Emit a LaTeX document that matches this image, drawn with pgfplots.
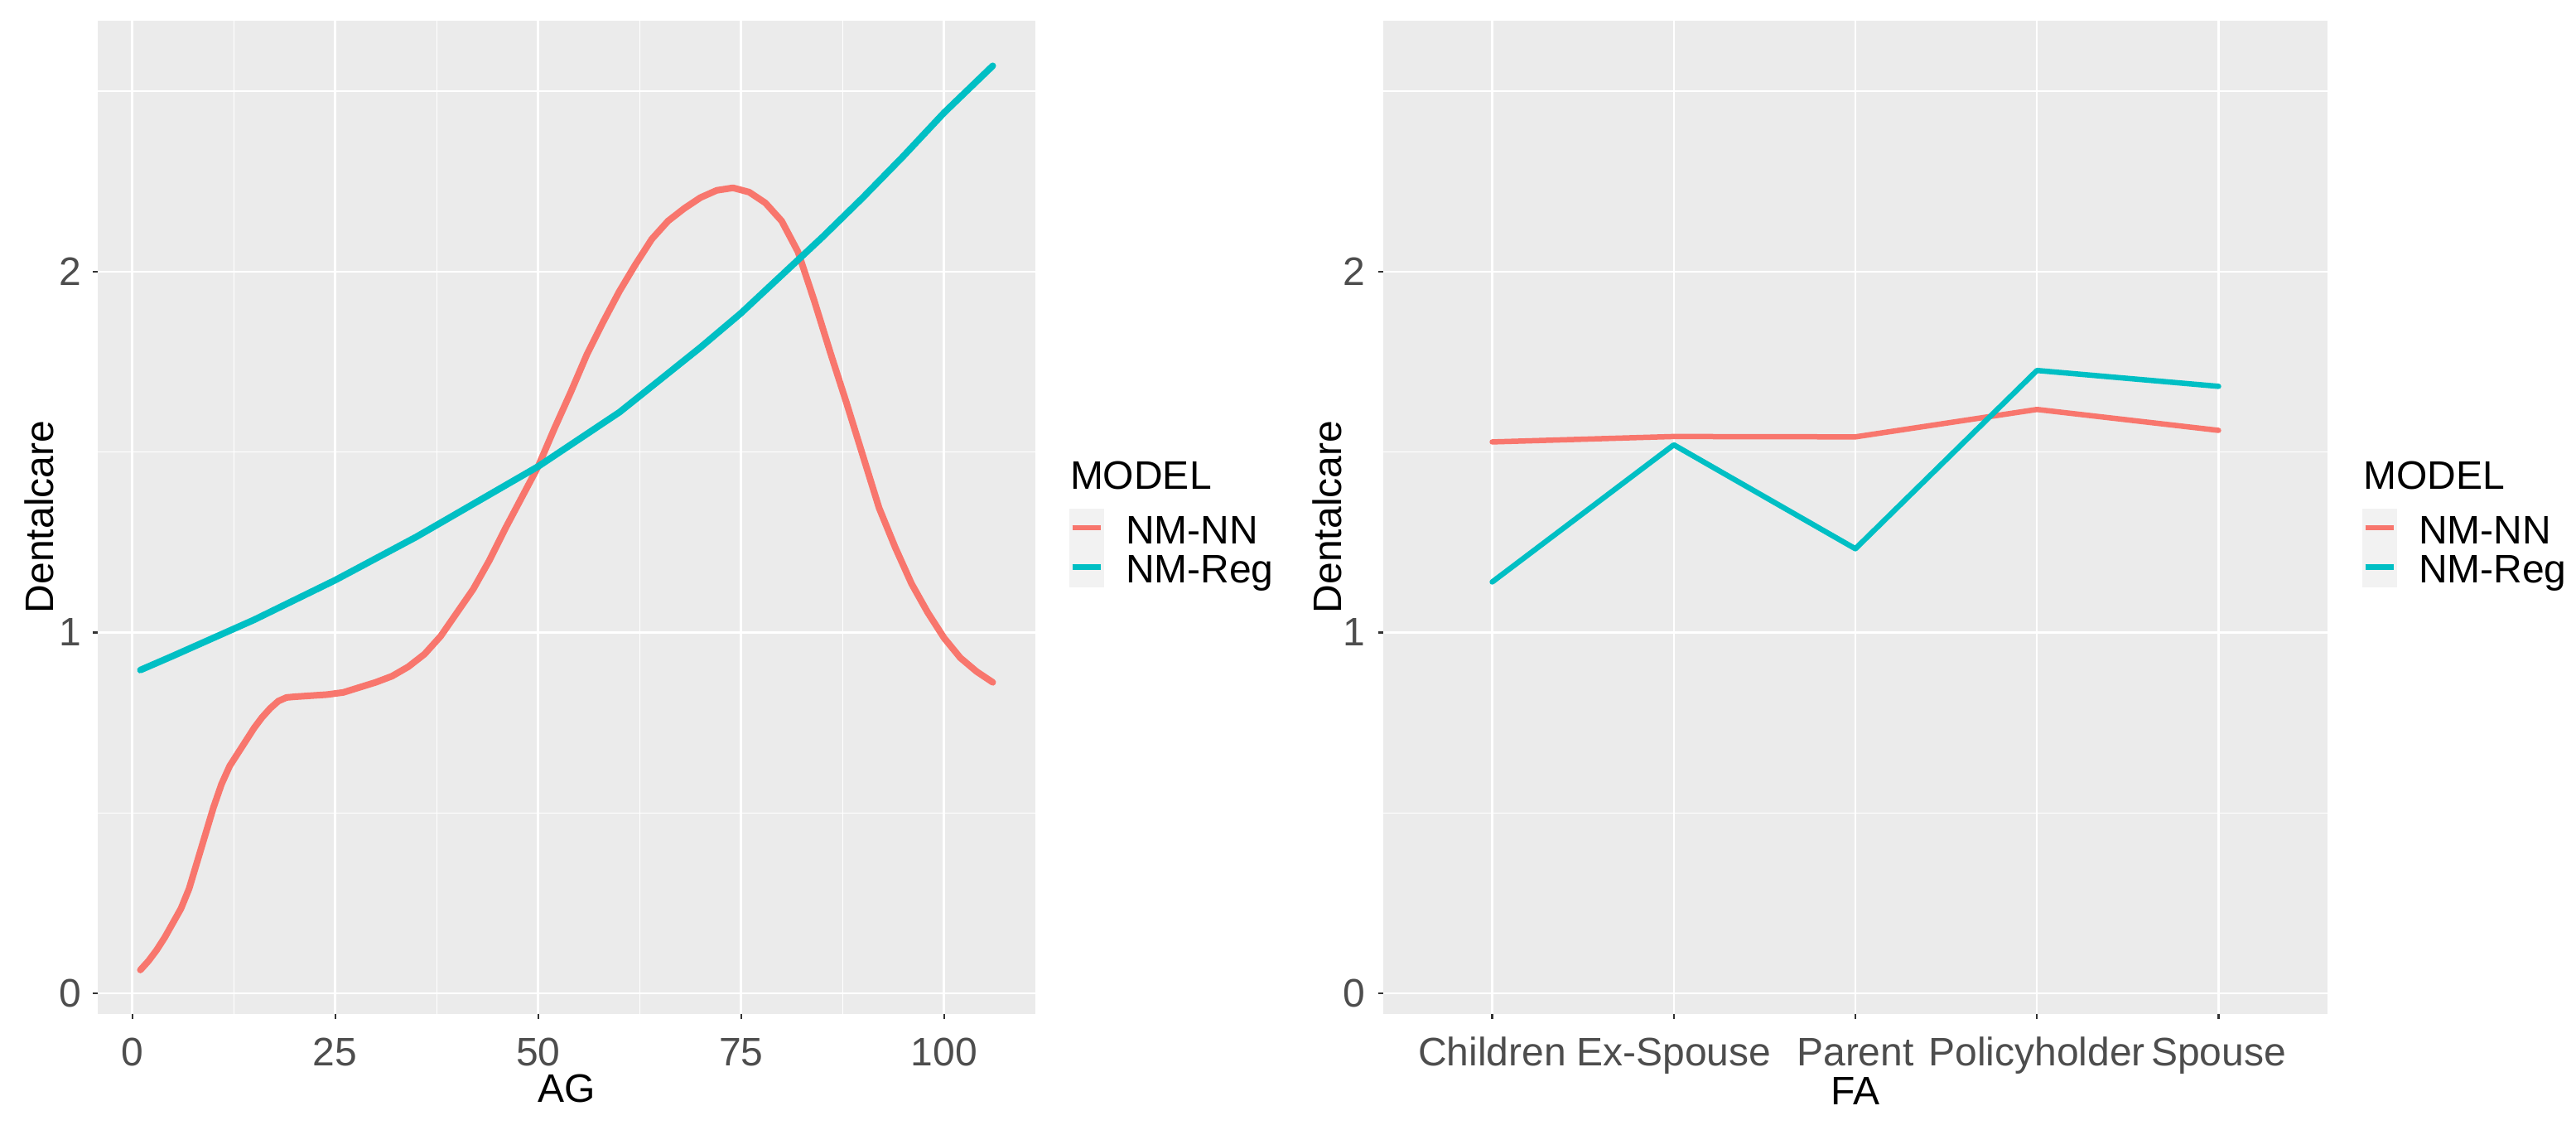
\documentclass[border=0pt]{standalone}
\usepackage{fontspec}
\setmainfont{Liberation Sans}
\usepackage{pgfplots}
\pgfplotsset{compat=1.18}

\definecolor{ggbg}{HTML}{EBEBEB}
\definecolor{ggred}{HTML}{F8766D}
\definecolor{ggcyan}{HTML}{00BFC4}
\definecolor{ggtext}{HTML}{4D4D4D}
\definecolor{ggtickmark}{HTML}{333333}
\definecolor{ggkey}{HTML}{F2F2F2}

\newcommand{\ggfont}{\fontsize{9.6}{11}\selectfont}

\pgfplotsset{ggpanel/.style={
    scale only axis,
    axis background/.style={fill=ggbg},
    axis line style={draw=none},
    tick align=outside,
    xtick pos=left, ytick pos=left,
    major tick length=1.2pt, minor tick length=0pt,
    tick style={ggtickmark, line width=0.45pt},
    grid=both,
    major grid style={white, line width=0.5pt},
    minor grid style={white, line width=0.25pt},
    ymin=-0.057, ymax=2.695,
    ytick={0,1,2}, minor ytick={0.5,1.5,2.5},
    ticklabel style={font=\ggfont, text=ggtext, inner sep=0pt},
    xticklabel style={anchor=base, yshift=-11.2pt},
    yticklabel style={anchor=east, xshift=-2.6pt},
    /pgf/number format/assume math mode=true,
}}

\begin{document}
\begin{tikzpicture}
\path (0,0) rectangle (622pt,-272.8pt);

% left panel: AG
\begin{axis}[ggpanel, name=L,
    at={(23.6pt,-244.8pt)}, anchor=south west,
    width=226.4pt, height=239.8pt,
    xmin=-4.25, xmax=111.25,
    xtick={0,25,50,75,100}, minor xtick={12.5,37.5,62.5,87.5},
]
\addplot[ggred, line width=1.6pt, line join=round, line cap=round] coordinates {
(1,0.065) (2,0.09) (3,0.12) (4,0.155) (5,0.195) (6,0.235) (7,0.29) (8,0.365)
(9,0.44) (10,0.515) (11,0.58) (12,0.63) (13,0.665) (14,0.70) (15,0.735)
(16,0.765) (17,0.79) (18,0.81) (19,0.82) (20,0.822) (22,0.825) (24,0.828)
(26,0.834) (28,0.848) (30,0.862) (32,0.879) (34,0.905) (36,0.94) (38,0.99)
(40,1.055) (42,1.12) (44,1.20) (46,1.29) (48,1.375) (50,1.46) (52,1.565)
(54,1.665) (56,1.77) (58,1.86) (60,1.945) (62,2.02) (64,2.09) (66,2.14)
(68,2.175) (70,2.205) (72,2.225) (74,2.232) (76,2.22) (78,2.19) (80,2.14)
(82,2.055) (84,1.92) (86,1.775) (88,1.635) (90,1.49) (92,1.345) (94,1.235)
(96,1.135) (98,1.055) (100,0.985) (102,0.93) (104,0.892) (106,0.862)
};
\addplot[ggcyan, line width=1.6pt, line join=round, line cap=round] coordinates {
(1,0.896) (5,0.935) (10,0.985) (15,1.035) (20,1.09) (25,1.145) (30,1.205)
(35,1.265) (40,1.33) (45,1.395) (50,1.46) (55,1.535) (60,1.61) (65,1.70)
(70,1.79) (75,1.885) (80,1.99) (85,2.095) (90,2.205) (95,2.32) (100,2.44)
(106,2.57)
};
\end{axis}

% right panel: FA
\begin{axis}[ggpanel, name=R,
    at={(334pt,-244.8pt)}, anchor=south west,
    width=228pt, height=239.8pt,
    xmin=-0.6, xmax=4.6,
    xtick={0,1,2,3,4},
    xticklabels={Children,Ex-Spouse,Parent,Policyholder,Spouse},
    yticklabel style={xshift=-0.4pt},
]
\addplot[ggred, line width=1.3pt, line join=round, line cap=round] coordinates {
(0,1.528) (1,1.543) (2,1.542) (3,1.618) (4,1.560)
};
\addplot[ggcyan, line width=1.3pt, line join=round, line cap=round] coordinates {
(0,1.140) (1,1.520) (2,1.232) (3,1.726) (4,1.682)
};
\end{axis}

% axis titles
\node[font=\ggfont, rotate=90] at (9.4pt,-124.8pt) {Dentalcare};
\node[font=\ggfont] at (136.8pt,-262.8pt) {AG};
\node[font=\ggfont, rotate=90] at (320.4pt,-124.8pt) {Dentalcare};
\node[font=\ggfont] at (448pt,-263.4pt) {FA};

% legends
\foreach \lx in {258.2pt,570.4pt} {
  \node[font=\ggfont, anchor=base west, inner sep=0pt] at (\lx,-118pt) {MODEL};
  \fill[ggkey] (\lx,-122.8pt) rectangle ++(8.4pt,-19pt);
  \draw[ggred, line width=1.3pt] ([xshift=0.7pt]\lx,-127.4pt) -- ++(6.8pt,0);
  \draw[ggcyan, line width=1.3pt] ([xshift=0.7pt]\lx,-136.9pt) -- ++(6.8pt,0);
  \node[font=\ggfont, anchor=base west, inner sep=0pt] at ([xshift=13.4pt]\lx,-131.3pt) {NM-NN};
  \node[font=\ggfont, anchor=base west, inner sep=0pt] at ([xshift=13.4pt]\lx,-140.6pt) {NM-Reg};
}
\end{tikzpicture}
\end{document}
